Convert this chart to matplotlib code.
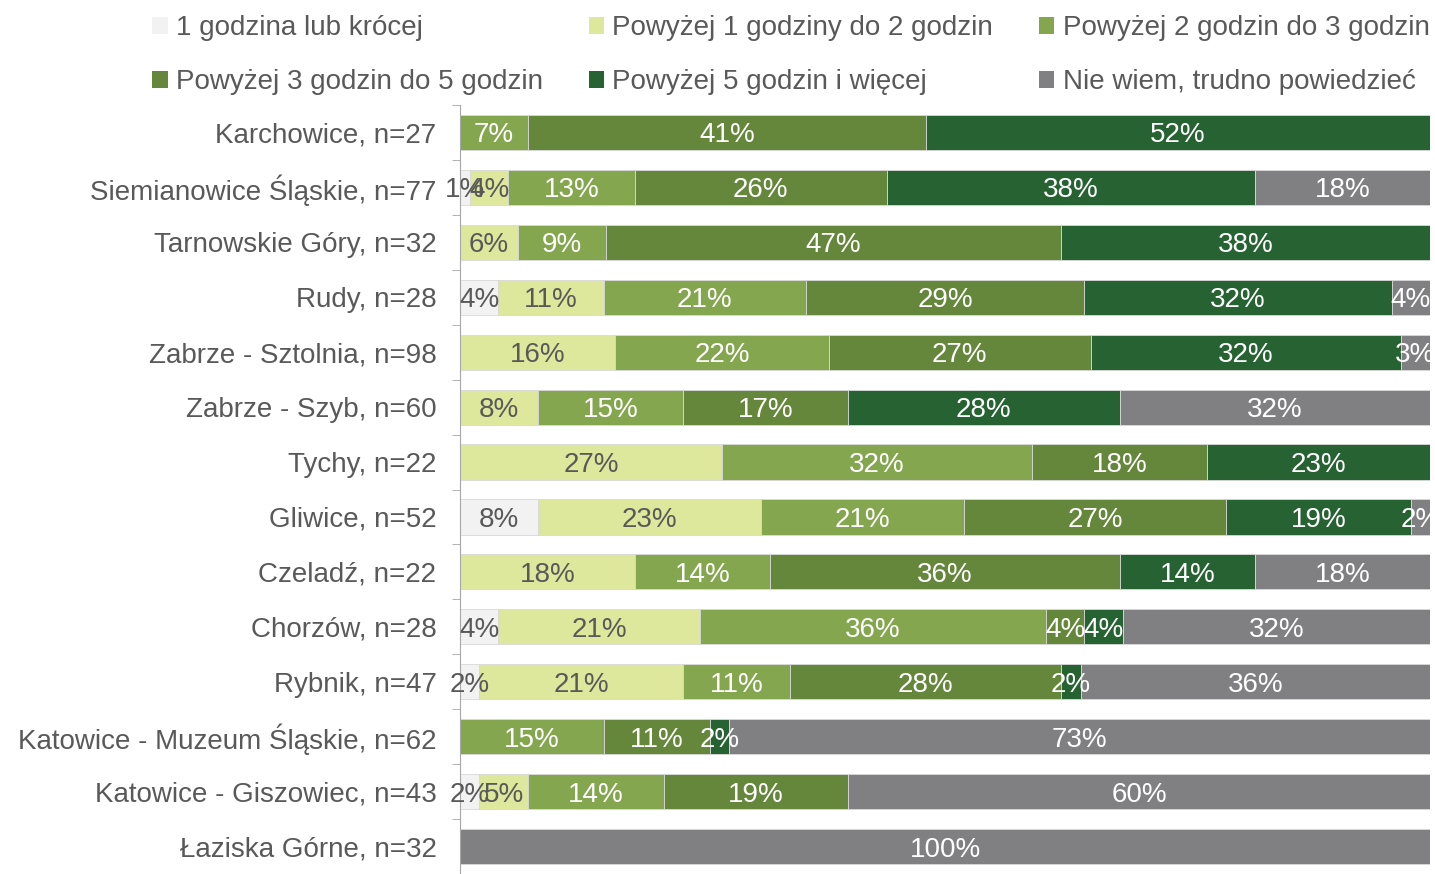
import numpy as np
import matplotlib.pyplot as plt
from matplotlib.patches import Patch

plt.rcParams['font.family'] = ['Liberation Sans', 'DejaVu Sans']

places = ['Karchowice, n=27', 'Siemianowice Śląskie, n=77', 'Tarnowskie Góry, n=32',
          'Rudy, n=28', 'Zabrze - Sztolnia, n=98', 'Zabrze - Szyb, n=60',
          'Tychy, n=22', 'Gliwice, n=52', 'Czeladź, n=22', 'Chorzów, n=28',
          'Rybnik, n=47', 'Katowice - Muzeum Śląskie, n=62',
          'Katowice - Giszowiec, n=43', 'Łaziska Górne, n=32']

categories = ['1 godzina lub krócej', 'Powyżej 1 godziny do 2 godzin',
              'Powyżej 2 godzin do 3 godzin', 'Powyżej 3 godzin do 5 godzin',
              'Powyżej 5 godzin i więcej', 'Nie wiem, trudno powiedzieć']

le1h = [0, 1, 0, 4, 0, 0, 0, 8, 0, 4, 2, 0, 2, 0]
h1_2 = [0, 4, 6, 11, 16, 8, 27, 23, 18, 21, 21, 0, 5, 0]
h2_3 = [7, 13, 9, 21, 22, 15, 32, 21, 14, 36, 11, 15, 14, 0]
h3_5 = [41, 26, 47, 29, 27, 17, 18, 27, 36, 4, 28, 11, 19, 0]
h5p = [52, 38, 38, 32, 32, 28, 23, 19, 14, 4, 2, 2, 0, 0]
dunno = [0, 18, 0, 4, 3, 32, 0, 2, 18, 32, 36, 73, 60, 100]

colors = ['#F2F2F2', '#DDE89C', '#84A64E', '#64873B', '#276232', '#808083']
text_colors = ['#595959', '#595959', 'white', 'white', 'white', 'white']

data = np.array([le1h, h1_2, h2_3, h3_5, h5p, dunno], dtype=float)
# bars are 100% stacked, rounding makes some rows 101
widths = data / data.sum(axis=0) * 100

fig = plt.figure(figsize=(14.35, 8.74), dpi=100)
ax = fig.add_axes([460 / 1435, 0.0, 970 / 1435, 1 - 105 / 874])

y = np.arange(len(places))
left = np.zeros(len(places))
handles = []
for i, cat in enumerate(categories):
    ax.barh(y, widths[i], left=left, height=0.64, color=colors[i],
            edgecolor='#D9D9D9', linewidth=0.6)
    for j in range(len(places)):
        if data[i, j] > 0:
            ax.text(left[j] + widths[i, j] / 2, y[j], f'{int(data[i, j])}%',
                    ha='center', va='center_baseline', fontsize=20,
                    color=text_colors[i], clip_on=False)
    left += widths[i]
    handles.append(Patch(facecolor=colors[i], edgecolor='none'))

ax.set_xlim(0, 100)
ax.set_ylim(len(places) - 0.5, -0.5)
ax.set_yticks(y)
ax.set_yticklabels(places, fontsize=20, color='#595959')
ax.set_yticks(np.arange(len(places) + 1) - 0.5, minor=True)
ax.tick_params(axis='y', which='major', length=0, pad=17)
ax.tick_params(axis='y', which='minor', length=6, color='#A6A6A6', direction='out')
ax.set_xticks([])
for s in ['top', 'right', 'bottom']:
    ax.spines[s].set_visible(False)
ax.spines['left'].set_color('#A6A6A6')

order = [0, 3, 1, 4, 2, 5]
fig.legend([handles[k] for k in order], [categories[k] for k in order],
           ncol=3, loc='upper left', bbox_to_anchor=(137 / 1435, 1.0),
           frameon=False, fontsize=20, labelcolor='#595959',
           handlelength=0.55, handleheight=0.55, handletextpad=0.3,
           columnspacing=1.65, labelspacing=1.0, borderaxespad=0.15)

fig.savefig('out.png', dpi=100)
